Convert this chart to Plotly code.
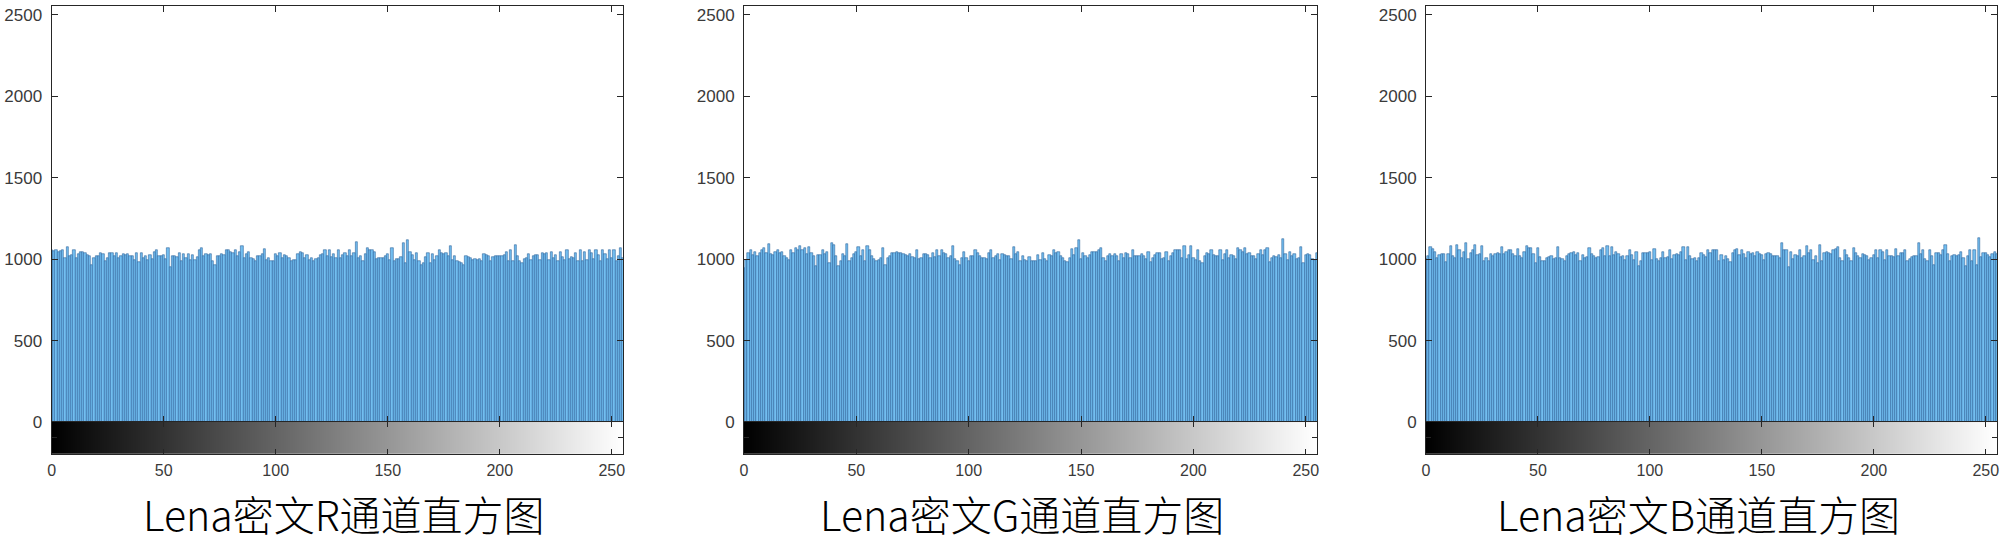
import plotly.graph_objects as go
from plotly.subplots import make_subplots

# gray levels (histogram bins) 0..255
gray_levels = list(range(256))

# pixel counts per gray level
counts_r = [
    1054, 1050, 1056, 1047, 1052, 1054, 1007, 1078, 1017, 1027, 1054, 1007, 1033, 1047, 1045, 1041,
    1027, 1017, 966, 1007, 1021, 1021, 1041, 1033, 986, 1007, 1041, 1041, 1017, 1041, 1007, 1021,
    1033, 1027, 1033, 1017, 1021, 996, 1041, 980, 1041, 1007, 1017, 996, 1027, 1000, 1047, 1058,
    1017, 1017, 1027, 1000, 1068, 952, 1017, 1021, 1013, 1037, 986, 1033, 1007, 1033, 996, 1027,
    996, 1013, 1058, 1068, 1017, 1033, 1027, 1033, 986, 966, 1021, 1021, 1033, 1027, 1054, 1054,
    1047, 1037, 1054, 1017, 1047, 1082, 1007, 1033, 1047, 1007, 1000, 992, 1021, 1017, 1033, 1062,
    996, 1007, 992, 986, 1033, 1017, 1041, 1007, 1027, 1017, 1007, 992, 996, 996, 1033, 1047,
    1041, 1007, 1027, 996, 1007, 992, 1000, 1007, 1027, 1033, 1054, 1017, 1058, 1013, 1033, 1007,
    1054, 1007, 1027, 1037, 1017, 1058, 1021, 1041, 1108, 1007, 1017, 992, 1033, 1068, 1054, 1054,
    1047, 1000, 1007, 1007, 1007, 1021, 1033, 996, 1068, 986, 1000, 1000, 1013, 1098, 976, 1118,
    1047, 1027, 996, 1041, 986, 966, 976, 1013, 1041, 976, 1033, 996, 1017, 1058, 1037, 1033,
    1041, 1021, 1082, 996, 1021, 986, 980, 976, 966, 1017, 1013, 1007, 996, 1000, 996, 1000,
    992, 1033, 1027, 1017, 986, 1013, 1021, 1021, 1021, 1021, 1027, 1047, 992, 1058, 986, 1088,
    1021, 992, 976, 1000, 1007, 1033, 996, 1017, 1027, 1027, 996, 1037, 1033, 1041, 996, 1047,
    1007, 1027, 992, 1047, 1013, 996, 1054, 1000, 1013, 1007, 1041, 992, 1058, 992, 1047, 996,
    1054, 1041, 1000, 1054, 1027, 986, 1054, 1033, 1000, 1054, 1007, 1054, 986, 1017, 1068, 1007,
]

counts_g = [
    945, 996, 1037, 1054, 1027, 1047, 1017, 1037, 1054, 1068, 1037, 1094, 1033, 1027, 1047, 1054,
    1041, 1047, 1017, 1007, 996, 1054, 1037, 1068, 1054, 1082, 1054, 1068, 1033, 1078, 1041, 1017,
    960, 1027, 1027, 1054, 1033, 1047, 976, 1102, 1088, 1021, 956, 986, 1033, 1017, 1094, 986,
    1007, 1033, 1047, 1074, 1021, 1054, 986, 1082, 1054, 1017, 1000, 986, 996, 1007, 1068, 966,
    1007, 1021, 1037, 1041, 1047, 1041, 1041, 1033, 1027, 1021, 1033, 1013, 1007, 1054, 1000, 1007,
    1033, 1033, 1027, 1007, 1037, 1013, 1058, 1021, 1054, 1037, 1033, 1007, 1021, 1082, 1000, 986,
    966, 1007, 1047, 1007, 992, 1021, 1021, 1054, 1037, 1021, 1007, 1007, 1000, 1037, 1054, 1007,
    1021, 1033, 996, 1033, 1027, 1021, 1017, 1000, 1074, 1033, 1047, 986, 1017, 996, 986, 1013,
    986, 990, 986, 1027, 996, 1037, 1000, 992, 1027, 1017, 1054, 1041, 1047, 1017, 1007, 992,
    980, 1007, 1062, 1027, 1068, 1115, 1000, 1037, 1017, 1007, 1027, 1047, 1047, 1047, 1054, 1068,
    1007, 992, 1017, 1033, 1021, 1033, 1017, 992, 1033, 1007, 1037, 1033, 1007, 1054, 1021, 1017,
    1021, 1033, 1017, 1000, 1047, 980, 1007, 1027, 1037, 1041, 1000, 1007, 1047, 992, 1021, 1037,
    1054, 1054, 1054, 1007, 1082, 1000, 1027, 1082, 1007, 996, 1054, 986, 976, 1021, 1037, 1033,
    1054, 1027, 1017, 1021, 1054, 996, 1033, 1054, 1007, 1027, 1021, 1000, 1068, 1054, 1047, 1068,
    1033, 1041, 1021, 1017, 1000, 1033, 1054, 1027, 1054, 1068, 980, 1007, 1017, 1013, 1027, 1007,
    1123, 1033, 996, 1047, 1017, 1033, 1000, 1007, 1074, 976, 1027, 1033, 1027, 1000, 996, 1041,
]

counts_b = [
    1000, 1017, 1074, 1062, 1047, 1007, 1027, 1033, 1033, 980, 1033, 1082, 1021, 1007, 1088, 1054,
    1007, 1047, 1098, 1000, 1041, 1054, 1088, 1027, 1033, 1082, 992, 1007, 992, 1033, 1021, 1033,
    1037, 1033, 1078, 1033, 1047, 1058, 1054, 1033, 1017, 1062, 1021, 1007, 1047, 1082, 1068, 1068,
    1033, 976, 1068, 1013, 992, 986, 1007, 1013, 1017, 1000, 1007, 1074, 1007, 1000, 992, 1021,
    1033, 1041, 1047, 1027, 1041, 992, 1027, 1007, 1013, 1068, 1033, 1021, 1007, 1013, 1054, 1068,
    1021, 1082, 1017, 1078, 1027, 1047, 1033, 1013, 1021, 996, 1017, 1058, 1027, 996, 1047, 956,
    986, 1041, 1037, 1037, 1047, 996, 1062, 1000, 986, 1007, 1047, 1007, 1013, 1054, 1000, 1027,
    1033, 1027, 1047, 1078, 996, 1074, 1017, 1000, 1007, 986, 1007, 1037, 1027, 1013, 1054, 1041,
    1058, 1054, 1058, 986, 1027, 996, 1017, 1000, 980, 1041, 1054, 1062, 1027, 1058, 1033, 1007,
    1047, 1033, 1041, 1017, 1047, 1033, 1027, 996, 1033, 1041, 1033, 1017, 1017, 1021, 1007, 1098,
    1054, 1054, 952, 1047, 1000, 1027, 1017, 1054, 1007, 1021, 1082, 1041, 1058, 996, 1017, 976,
    1088, 986, 1041, 1047, 1037, 1033, 1058, 1062, 1074, 1007, 986, 1058, 1027, 1007, 992, 1068,
    1037, 1017, 1007, 1033, 1027, 1017, 996, 1007, 1027, 1058, 1007, 1054, 1047, 996, 1054, 1017,
    1021, 1013, 1062, 1017, 1037, 1041, 1054, 986, 1000, 1013, 1017, 1021, 1102, 1033, 1054, 1000,
    986, 1058, 1017, 966, 1037, 1041, 1027, 1054, 1088, 1033, 992, 1021, 1027, 1021, 1027, 1047,
    1007, 956, 1017, 1054, 992, 1054, 966, 1129, 1013, 1041, 1041, 1027, 1013, 1033, 1047, 1030,
]

titles = ["Lena密文R通道直方图", "Lena密文G通道直方图", "Lena密文B通道直方图"]
channels = [counts_r, counts_g, counts_b]

x_ticks = [0, 50, 100, 150, 200, 250]
y_ticks = [0, 500, 1000, 1500, 2000, 2500]

# panel placement (paper coords)
x_domains = [[0.0258, 0.3115], [0.372, 0.6585], [0.713, 0.9985]]
y_main = [0.2228, 0.989]
y_bar = [0.1645, 0.2228]
title_x = [0.172, 0.511, 0.849]

axis_color = "#262626"
tick_font = dict(family="Liberation Sans, Arial, sans-serif", size=17, color="#3a3a3a")

fig = make_subplots(rows=2, cols=3, horizontal_spacing=0.05, vertical_spacing=0.0)

for i, counts in enumerate(channels):
    col = i + 1
    fig.add_trace(go.Bar(
        x=gray_levels,
        y=counts,
        width=1,
        marker=dict(color="rgb(115,190,240)",
                    line=dict(color="rgb(25,80,140)", width=0.5)),
        showlegend=False,
        hoverinfo="skip"), row=1, col=col)

    fig.add_trace(go.Heatmap(
        x=gray_levels,
        y=[0.5],
        z=[gray_levels],
        colorscale=[[0, "black"], [1, "white"]],
        zmin=0, zmax=255,
        showscale=False,
        hoverinfo="skip"), row=2, col=col)

    fig.update_xaxes(
        domain=x_domains[i], range=[0, 255], automargin=False,
        showline=True, linecolor=axis_color, linewidth=1, mirror="ticks",
        ticks="inside", ticklen=6, tickcolor=axis_color,
        tickvals=x_ticks, showticklabels=False, showgrid=False, zeroline=False,
        row=1, col=col)
    fig.update_yaxes(
        domain=y_main, range=[0, 2555], automargin=False,
        showline=True, linecolor=axis_color, linewidth=1, mirror="ticks",
        ticks="inside", ticklen=6, tickcolor=axis_color,
        tickvals=y_ticks, tickfont=tick_font, ticklabelstandoff=5,
        showgrid=False, zeroline=False,
        row=1, col=col)

    fig.update_xaxes(
        domain=x_domains[i], range=[0, 255], automargin=False,
        showline=True, linecolor=axis_color, linewidth=1, mirror="ticks",
        ticks="inside", ticklen=5, tickcolor=axis_color,
        tickvals=x_ticks, tickfont=dict(tick_font, size=16), ticklabelstandoff=2,
        showgrid=False, zeroline=False,
        row=2, col=col)
    fig.update_yaxes(
        domain=y_bar, range=[0, 1], automargin=False,
        showline=True, linecolor=axis_color, linewidth=1, mirror="ticks",
        ticks="inside", ticklen=5, tickcolor=axis_color,
        tickvals=[0.5], showticklabels=False, showgrid=False, zeroline=False,
        row=2, col=col)

    fig.add_annotation(
        text=titles[i], xref="paper", yref="paper",
        x=title_x[i], y=0.055, xanchor="center", yanchor="middle",
        showarrow=False,
        font=dict(family="Noto Sans CJK SC", size=41, weight=300, color="black"))

fig.update_layout(
    width=2000, height=543,
    margin=dict(l=0, r=0, t=0, b=0),
    paper_bgcolor="white", plot_bgcolor="white",
    bargap=0,
)

# the page body has an 8px default margin; drop it so the figure fills the window
fig.write_html("out.html",
               config={"displayModeBar": False},
               post_script="document.body.style.margin = '0';")
